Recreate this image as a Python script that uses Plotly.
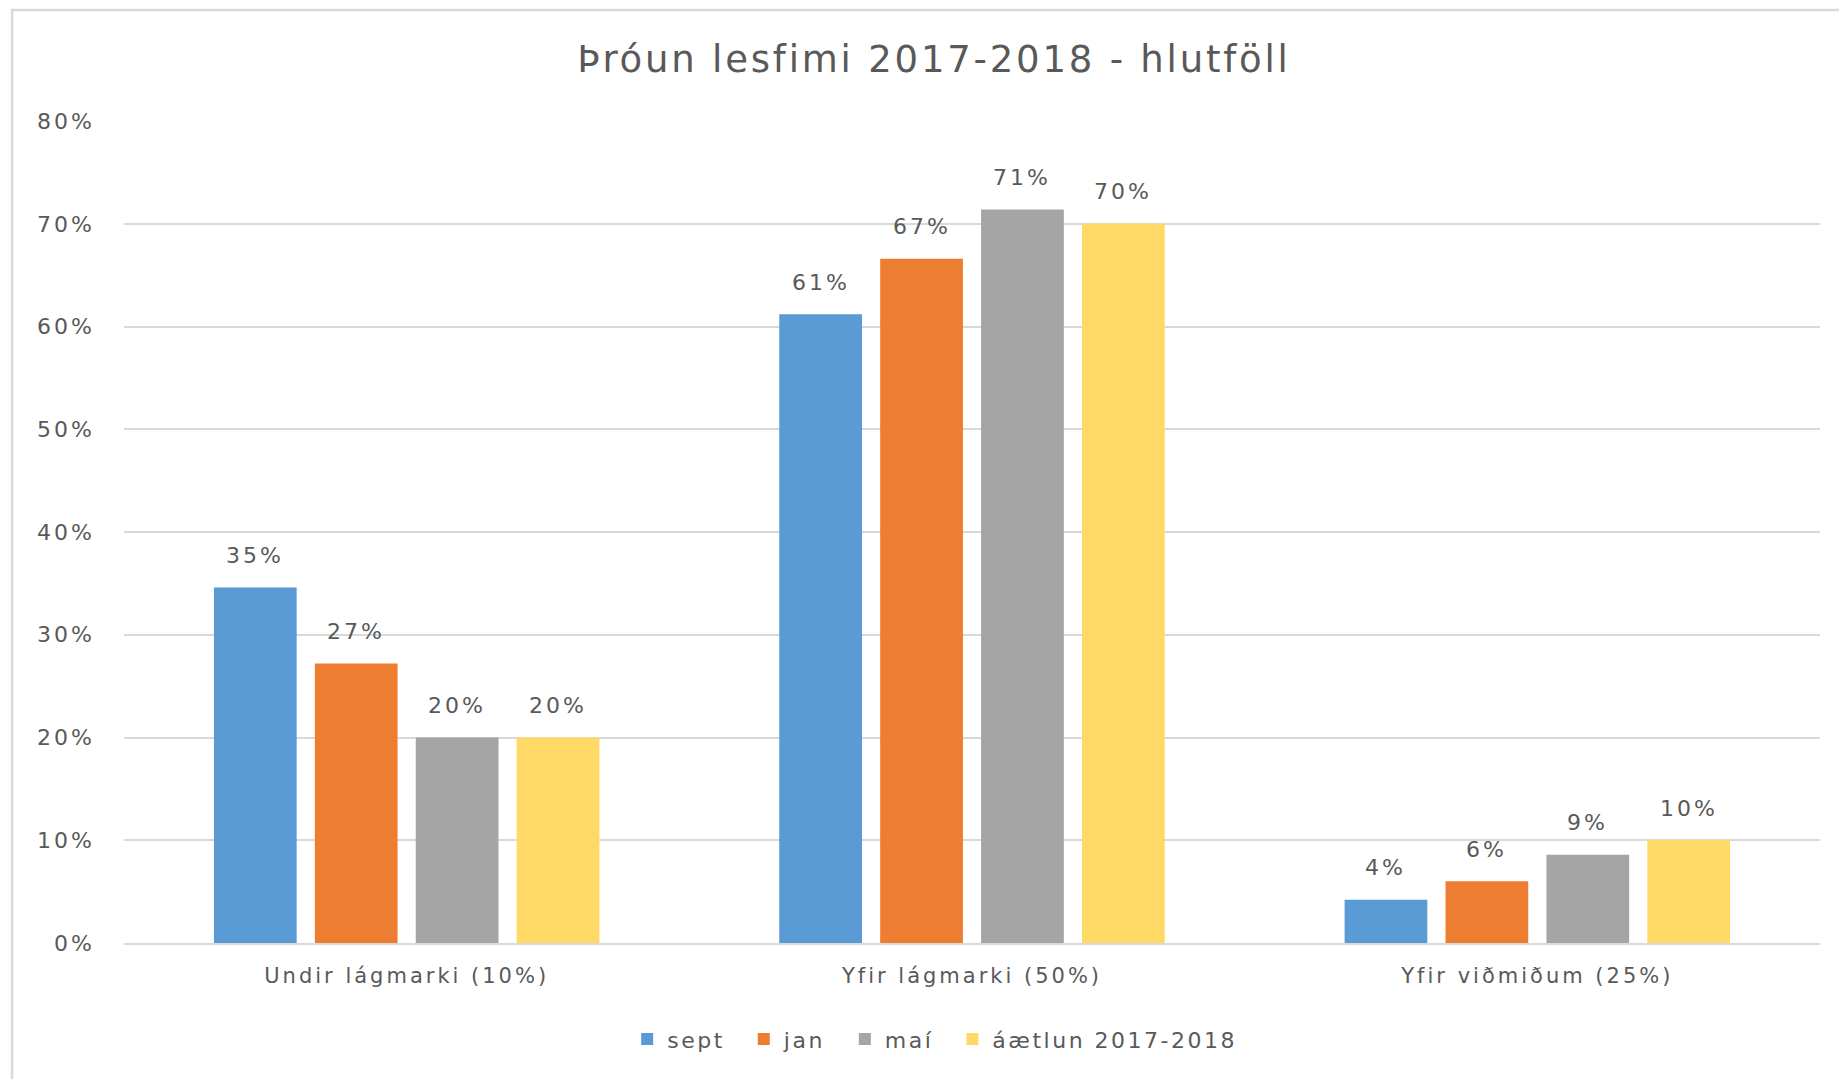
import plotly.graph_objects as go

categories = ["Undir lágmarki (10%)", "Yfir lágmarki (50%)", "Yfir viðmiðum (25%)"]
series_names = ["sept", "jan", "maí", "áætlun 2017-2018"]
sept = [0.346, 0.612, 0.042]
jan = [0.272, 0.666, 0.060]
mai = [0.200, 0.714, 0.086]
aetlun = [0.200, 0.700, 0.100]
y_ticks = [0, 0.1, 0.2, 0.3, 0.4, 0.5, 0.6, 0.7, 0.8]
colors = ["#5B9BD5", "#ED7D31", "#A5A5A5", "#FFD966"]

FONT = "DejaVu Sans"
TXT = "#595959"
BARGAP = 0.286
BARGROUPGAP = 0.18


def sp(text, px):
    return f"<span style='letter-spacing:{px}px'>{text}</span>"


all_series = [sept, jan, mai, aetlun]
n = len(all_series)

fig = go.Figure()
for i, (name, vals, col) in enumerate(zip(series_names, all_series, colors)):
    label = sp(name, 2.5) + ("\u00a0\u00a0" if i < n - 1 else "")
    fig.add_trace(go.Bar(
        x=categories, y=vals, name=label, marker_color=col,
        marker_line_width=0,
    ))

# data labels placed through the category axis
group_w = 1 - BARGAP
slot = group_w / n
for i, vals in enumerate(all_series):
    off = -group_w / 2 + slot * (i + 0.5)
    for ci, v in enumerate(vals):
        fig.add_annotation(
            x=ci + off, y=v, xref="x", yref="y",
            text=sp(f"{round(v * 100):d}%", 3), showarrow=False,
            yanchor="middle", xanchor="center", yshift=32,
            font=dict(family=FONT, size=22, color=TXT),
        )

fig.update_layout(
    width=1839, height=1071,
    paper_bgcolor="white", plot_bgcolor="white",
    margin=dict(l=116, r=27, t=113, b=136, autoexpand=False),
    barmode="group", bargap=BARGAP, bargroupgap=BARGROUPGAP,
    title=dict(text=sp("Þróun lesfimi 2017-2018 - hlutföll", 2.8), x=0.5035, y=0.952,
               xanchor="center", yanchor="middle", xref="container", yref="container",
               font=dict(family=FONT, size=37, color=TXT)),
    legend=dict(orientation="h", x=0.478, y=-0.117, xanchor="center", yanchor="middle",
                font=dict(family=FONT, size=22, color=TXT), traceorder="normal",
                itemwidth=30),
    showlegend=True,
)
fig.update_yaxes(range=[0, 0.8001], tickvals=y_ticks,
                 ticktext=[sp(f"{round(t * 100):d}%", 3) for t in y_ticks],
                 showgrid=True, gridcolor="#D9D9D9", gridwidth=1.5,
                 zeroline=False, showline=False, ticks="", ticklabelstandoff=28,
                 tickfont=dict(family=FONT, size=22, color=TXT))
fig.update_xaxes(showline=True, linecolor="#D9D9D9", linewidth=1.5, ticks="",
                 tickvals=categories, ticktext=[sp(c, 3) for c in categories],
                 ticklabelstandoff=13,
                 tickfont=dict(family=FONT, size=21, color=TXT))

fig.add_shape(type="rect", xref="paper", yref="paper",
              x0=-0.066, x1=1.05, y0=-0.2, y1=1.135,
              line=dict(color="#D9D9D9", width=2.5), fillcolor="rgba(0,0,0,0)", layer="below")

fig.write_html("out.html")
